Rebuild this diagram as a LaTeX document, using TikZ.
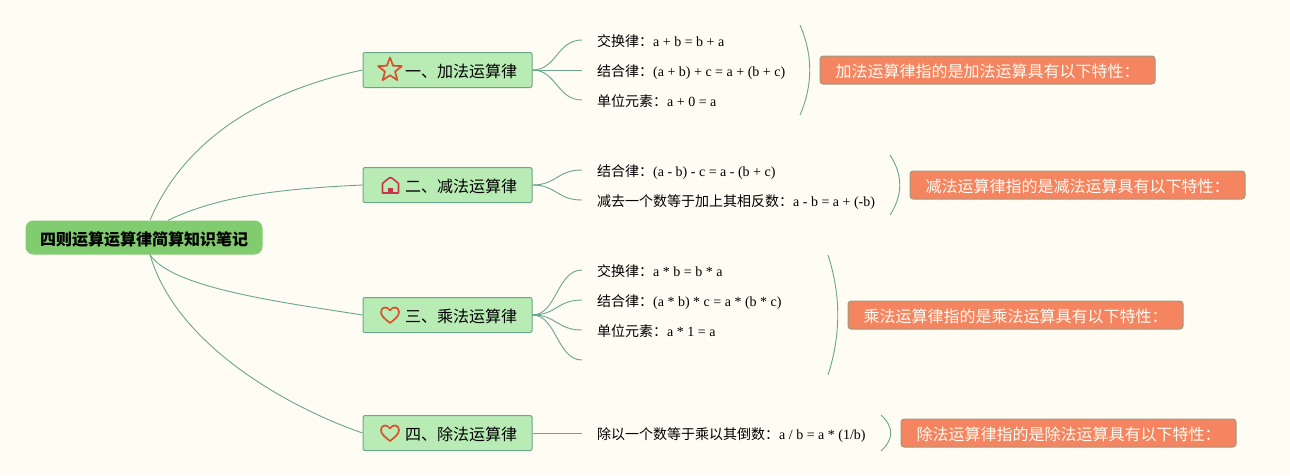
\documentclass[tikz,border=0pt]{standalone}
\usepackage{fontspec}
\setmainfont{Liberation Serif}
\newfontfamily\cjk{Noto Sans CJK SC}
\definecolor{bgc}{HTML}{FFFCF3}
\definecolor{linkc}{HTML}{6BA58E}
\definecolor{topicc}{HTML}{B9EBB5}
\definecolor{rootc}{HTML}{80CC6E}
\definecolor{sumc}{HTML}{F58460}
\definecolor{sumb}{HTML}{9C9C80}
\definecolor{iconr}{HTML}{D8502C}
\definecolor{iconh}{HTML}{C8354A}
\newcommand{\zh}[1]{{\cjk #1}}
\tikzset{
  x=1pt,y=-1pt,
  link/.style={draw=linkc,line width=0.9pt},
  rootbox/.style={fill=rootc,rounded corners=8pt,minimum width=237pt,minimum height=34pt,inner sep=0pt,text height=16pt,text depth=0pt,font=\cjk\bfseries\fontsize{16}{16}\selectfont,text=black},
  topicbox/.style={fill=topicc,draw=linkc,line width=1pt,rounded corners=2pt,minimum width=169pt,minimum height=35pt,inner sep=0pt,text height=14pt,text depth=0pt,font=\cjk\fontsize{16}{16}\selectfont,text=black},
  leaf/.style={anchor=west,inner xsep=15pt,inner ysep=0pt,text height=12pt,text depth=0pt,font=\fontsize{14}{14}\selectfont,text=black},
  sumbox/.style={fill=sumc,draw=sumb,line width=1pt,rounded corners=3pt,minimum width=335pt,minimum height=28pt,inner sep=0pt,text height=14pt,text depth=0pt,font=\cjk\fontsize{16}{16}\selectfont,text=bgc},
  starpic/.pic={\draw[iconr,line width=1.7pt,line join=round] (-90:12.5) -- (-54:5.3) -- (-18:12.5) -- (18:5.3) -- (54:12.5) -- (90:5.3) -- (126:12.5) -- (162:5.3) -- (198:12.5) -- (234:5.3) -- cycle;},
  housepic/.pic={\draw[iconh,line width=1.6pt,line join=round] (-8,8) -- (-8,-1.5) .. controls (-5,-4) and (-2,-7) .. (0,-7.5) .. controls (2,-7) and (5,-4) .. (8,-1.5) -- (8,8) -- cycle; \fill[iconh] (-2.5,8) rectangle (2.5,3);},
  heartpic/.pic={\draw[iconr,line width=1.7pt,line join=round] (0,8) .. controls (-5,4) and (-9,1) .. (-9,-3) .. controls (-9,-8.5) and (-2.5,-9) .. (0,-4.5) .. controls (2.5,-9) and (9,-8.5) .. (9,-3) .. controls (9,1) and (5,4) .. (0,8) -- cycle;}
}
\begin{document}
\begin{tikzpicture}
\fill[bgc] (0,0) rectangle (1290,475);
\useasboundingbox (0,0) rectangle (1290,475);
\node[rootbox] (root) at (144,237.5) {四则运算运算律简算知识笔记};
\node[topicbox] (t1) at (447.5,70) {\hspace*{27pt}一、加法运算律};
\node[topicbox] (t2) at (447.5,185) {\hspace*{27pt}二、减法运算律};
\node[topicbox] (t3) at (447.5,315) {\hspace*{27pt}三、乘法运算律};
\node[topicbox] (t4) at (447.5,433) {\hspace*{27pt}四、除法运算律};
\draw[link] ([xshift=6pt]root.north) .. controls +(38,-90) and +(-85,18) .. (t1.west);
\draw[link] ([xshift=24pt]root.north) .. controls +(50,-24) and +(-85,4) .. (t2.west);
\draw[link] ([xshift=6pt]root.south) .. controls +(22,34) and +(-75,-12) .. (t3.west);
\draw[link] ([xshift=6pt]root.south) .. controls +(26,90) and +(-75,-26) .. (t4.west);
\pic at ([xshift=-57.5pt]t1.center) {starpic};
\pic at ([xshift=-57pt]t2.center) {housepic};
\pic at ([xshift=-57.5pt]t3.center) {heartpic};
\pic at ([xshift=-57.5pt]t4.center) {heartpic};
\node[leaf] (l11) at (582,40) {\zh{交换律：}a + b = b + a};
\node[leaf] (l12) at (582,70) {\zh{结合律：}(a + b) + c = a + (b + c)};
\node[leaf] (l13) at (582,100) {\zh{单位元素：}a + 0 = a};
\node[leaf] (l21) at (582,170) {\zh{结合律：}(a - b) - c = a - (b + c)};
\node[leaf] (l22) at (582,200) {\zh{减去一个数等于加上其相反数：}a - b = a + (-b)};
\node[leaf] (l31) at (582,270) {\zh{交换律：}a * b = b * a};
\node[leaf] (l32) at (582,300) {\zh{结合律：}(a * b) * c = a * (b * c)};
\node[leaf] (l33) at (582,330) {\zh{单位元素：}a * 1 = a};
\coordinate (l34) at (582,360);
\node[leaf] (l41) at (582,433) {\zh{除以一个数等于乘以其倒数：}a / b = a * (1/b)};
\foreach \a/\b in {t1/l11,t1/l12,t1/l13,t2/l21,t2/l22,t3/l31,t3/l32,t3/l33,t4/l41}
  \draw[link] (\a.east) .. controls +(24,0) and +(-25,0) .. (\b.west);
\draw[link] (t3.east) .. controls +(24,0) and +(-25,0) .. (l34);
\node[sumbox] (s1) at (987.5,70) {加法运算律指的是加法运算具有以下特性：};
\node[sumbox] (s2) at (1077.5,185) {减法运算律指的是减法运算具有以下特性：};
\node[sumbox] (s3) at (1015.5,315) {乘法运算律指的是乘法运算具有以下特性：};
\node[sumbox] (s4) at (1068.5,433) {除法运算律指的是除法运算具有以下特性：};
\coordinate (b1a) at (800,25); \coordinate (b1b) at (800,115);
\coordinate (b2a) at (890,155); \coordinate (b2b) at (890,215);
\coordinate (b3a) at (828,255); \coordinate (b3b) at (828,375);
\coordinate (b4a) at (881,415); \coordinate (b4b) at (881,451);
\draw[link] (b1a) .. controls +(13,30) and +(13,-30) .. (b1b);
\draw[link] (b2a) .. controls +(13,20) and +(13,-20) .. (b2b);
\draw[link] (b3a) .. controls +(13,40) and +(13,-40) .. (b3b);
\draw[link] (b4a) .. controls +(13,12) and +(13,-12) .. (b4b);
\end{tikzpicture}
\end{document}
